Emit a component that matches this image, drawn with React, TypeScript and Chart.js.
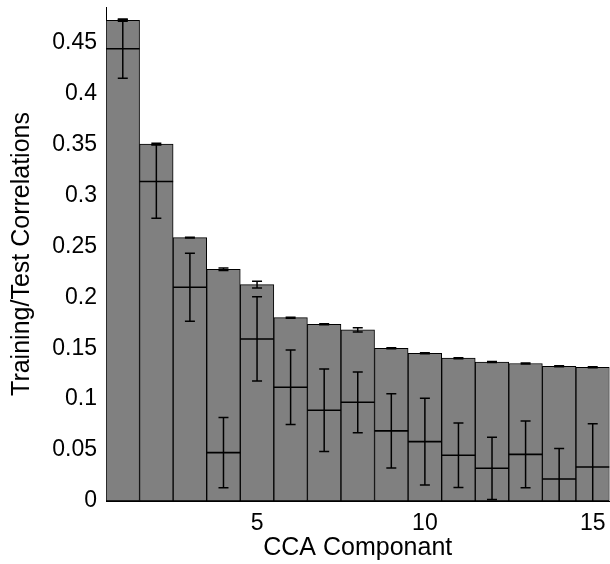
import React, { useEffect, useRef } from "react";
import { Chart, registerables } from "chart.js";

Chart.register(...registerables);

// CCA component index
const components = [1, 2, 3, 4, 5, 6, 7, 8, 9, 10, 11, 12, 13, 14, 15];
// Training correlations (bar heights) and their error
const trainCorr = [0.472, 0.3505, 0.2585, 0.2275, 0.2125, 0.18, 0.1735, 0.168, 0.15, 0.145, 0.1402, 0.1365, 0.135, 0.1323, 0.1313];
const trainErr = [0.001, 0.0007, 0.0004, 0.0013, 0.0033, 0.0005, 0.0005, 0.002, 0.0005, 0.0005, 0.0005, 0.0005, 0.0005, 0.0005, 0.0005];
// Test correlations (horizontal markers) and their error
const testCorr = [0.444, 0.3137, 0.2099, 0.0475, 0.1591, 0.1117, 0.0891, 0.0969, 0.0688, 0.0583, 0.0449, 0.0321, 0.0458, 0.0216, 0.0334];
const testErr = [0.029, 0.036, 0.0334, 0.0346, 0.0414, 0.0365, 0.0405, 0.0298, 0.0364, 0.0427, 0.0316, 0.0306, 0.0327, 0.030, 0.0425];

const xTickValues = [5, 10, 15];
const xTickLabels = ["5", "10", "15"];
const yTickValues = [0, 0.05, 0.1, 0.15, 0.2, 0.25, 0.3, 0.35, 0.4, 0.45];
const yTickLabels = ["0", "0.05", "0.1", "0.15", "0.2", "0.25", "0.3", "0.35", "0.4", "0.45"];

const xTitle = "CCA Componant";
const yTitle = "Training/Test Correlations";

const FONT = "'Liberation Sans', Arial, Helvetica, sans-serif";

const errorPlugin = {
  id: "errorBars",
  afterDatasetsDraw(chart: any) {
    const { ctx, chartArea } = chart;
    const xs = chart.scales.x;
    const ys = chart.scales.y;
    ctx.save();
    ctx.beginPath();
    ctx.rect(chartArea.left, chartArea.top - 2, chartArea.right - chartArea.left, chartArea.bottom - chartArea.top + 2);
    ctx.clip();
    ctx.strokeStyle = "#000";
    const capHalf = 5;
    const drawErr = (xp: number, v: number, e: number) => {
      const y1 = ys.getPixelForValue(v - e);
      const y2 = ys.getPixelForValue(v + e);
      ctx.beginPath();
      ctx.moveTo(xp, y1);
      ctx.lineTo(xp, y2);
      ctx.moveTo(xp - capHalf, y1);
      ctx.lineTo(xp + capHalf, y1);
      ctx.moveTo(xp - capHalf, y2);
      ctx.lineTo(xp + capHalf, y2);
      ctx.stroke();
    };
    components.forEach((c, i) => {
      const xp = xs.getPixelForValue(c);
      const xl = xs.getPixelForValue(c - 0.5);
      const xr = xs.getPixelForValue(c + 0.5);
      ctx.lineWidth = 1.6;
      const yt = ys.getPixelForValue(testCorr[i]);
      ctx.beginPath();
      ctx.moveTo(xl, yt);
      ctx.lineTo(xr, yt);
      ctx.stroke();
      ctx.lineWidth = 1.5;
      drawErr(xp, testCorr[i], testErr[i]);
      drawErr(xp, trainCorr[i], trainErr[i]);
    });
    ctx.restore();
  },
};

export default function App() {
  const ref = useRef<HTMLCanvasElement | null>(null);
  useEffect(() => {
    if (!ref.current) return;
    const chart = new Chart(ref.current, {
      type: "bar",
      data: {
        datasets: [
          {
            data: components.map((c, i) => ({ x: c, y: trainCorr[i] })),
            backgroundColor: "#808080",
            borderColor: "#000000",
            borderWidth: 1,
            borderSkipped: false,
            barPercentage: 1,
            categoryPercentage: 1,
          } as any,
        ],
      },
      options: {
        animation: false,
        responsive: false,
        devicePixelRatio: 1,
        layout: { padding: { top: 7, right: 0.5, left: 0, bottom: 0 } },
        plugins: { legend: { display: false }, tooltip: { enabled: false } },
        scales: {
          x: {
            type: "linear",
            min: 0.5,
            max: 15.5,
            offset: false,
            grid: { display: false, drawTicks: false },
            border: { display: true, color: "#000", width: 1 },
            afterBuildTicks: (s: any) => {
              s.ticks = xTickValues.map((v) => ({ value: v }));
            },
            afterFit: (s: any) => {
              s.height = 63;
              s.paddingLeft = 0;
              s.paddingRight = 0;
            },
            ticks: {
              autoSkip: false,
              maxRotation: 0,
              padding: 9,
              color: "#000",
              font: { family: FONT, size: 23 },
              callback: (_v: any, idx: number) => xTickLabels[idx],
            },
            title: {
              display: true,
              text: xTitle,
              color: "#000",
              font: { family: FONT, size: 25 },
              padding: { top: 0, bottom: 1 },
            },
          },
          y: {
            min: 0,
            max: 0.485,
            grid: { display: false, drawTicks: false },
            border: { display: true, color: "#000", width: 1 },
            afterBuildTicks: (s: any) => {
              s.ticks = yTickValues.map((v) => ({ value: v }));
            },
            afterFit: (s: any) => {
              s.width = 106;
              s.paddingTop = 0;
              s.paddingBottom = 0;
            },
            ticks: {
              autoSkip: false,
              padding: 9,
              color: "#000",
              font: { family: FONT, size: 23 },
              callback: (_v: any, idx: number) => yTickLabels[idx],
            },
            title: {
              display: true,
              text: yTitle,
              color: "#000",
              font: { family: FONT, size: 25 },
              padding: { top: 7, bottom: 0 },
            },
          },
        },
      },
      plugins: [errorPlugin],
    });
    return () => chart.destroy();
  }, []);
  return (
    <div style={{ position: "absolute", left: 0, top: 0, width: 610, height: 564, background: "#fff" }}>
      <canvas ref={ref} width={610} height={564} style={{ width: 610, height: 564, display: "block" }} />
    </div>
  );
}
